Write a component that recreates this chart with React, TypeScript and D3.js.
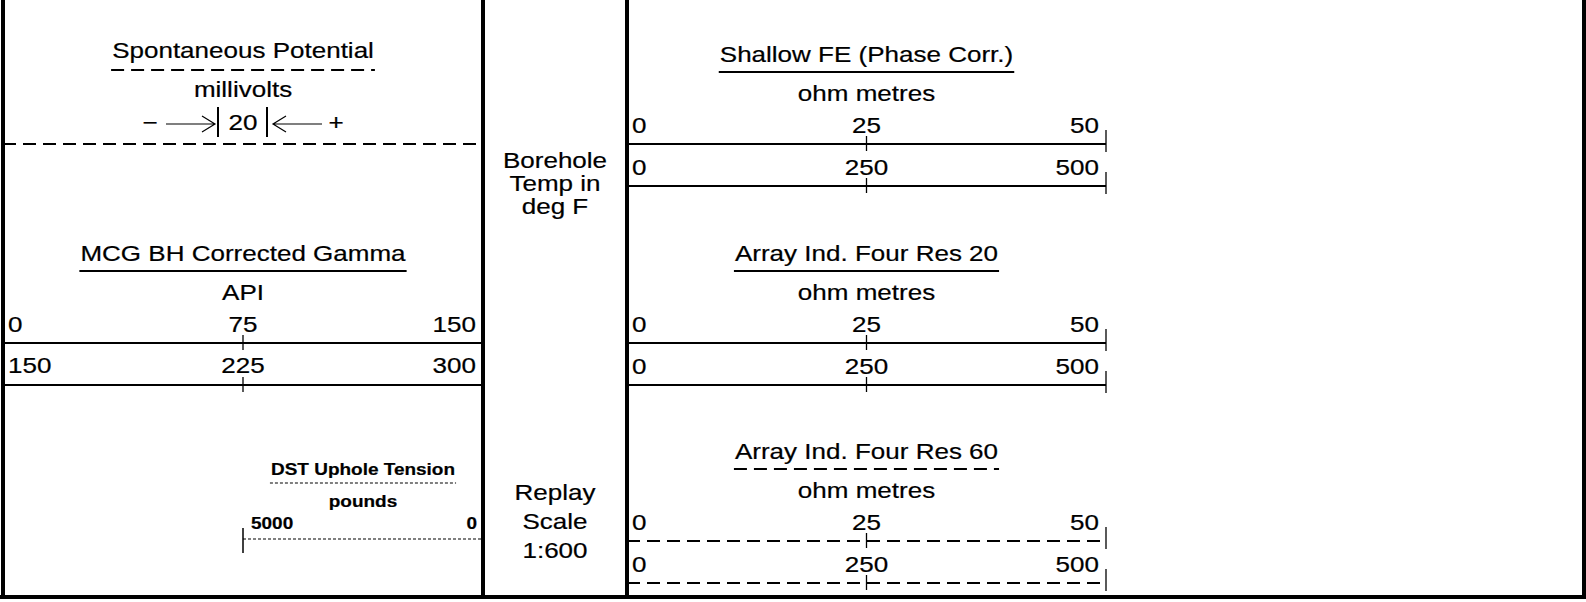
import * as d3 from "d3";

const WIDTH = 1586;
const HEIGHT = 602;
const FONT = '"Liberation Sans", Arial, sans-serif';
const FONT_SIZE = 21.5;
const STRETCH = 1.21; // header lettering is drawn wide
const STRETCH_BOLD = 1.15;

// track borders and bottom edge
const trackX = [3, 483, 627, 1584];
const bottomY = 597;
const resRight = 1106;

// track 1
const spTitle = "Spontaneous Potential";
const spUnit = "millivolts";
const spScale = "20";
const gammaTitle = "MCG BH Corrected Gamma";
const gammaUnit = "API";
const gammaScale1 = [0, 75, 150];
const gammaScale2 = [150, 225, 300];
const dstTitle = "DST Uphole Tension";
const dstUnit = "pounds";
const dstScale = [5000, 0];

// depth track
const depthTop = ["Borehole", "Temp in", "deg F"];
const depthBottom = ["Replay", "Scale", "1:600"];

// resistivity track
const resTitles = ["Shallow FE (Phase Corr.)", "Array Ind. Four Res 20", "Array Ind. Four Res 60"];
const resUnits = ["ohm metres", "ohm metres", "ohm metres"];
const resDashed = [false, false, true];
const resScale1 = [0, 25, 50];
const resScale2 = [0, 250, 500];
const resLineY = [144, 343, 541];

const ctx = document.createElement("canvas").getContext("2d");
function textWidth(s: string, size: number, bold: boolean, stretch: number) {
  if (!ctx) return s.length * size * 0.55 * stretch;
  ctx.font = `${bold ? "bold " : ""}${size}px "Liberation Sans", Arial`;
  return ctx.measureText(s).width * stretch;
}

function Label({ x, y, text, anchor = "middle", size = FONT_SIZE, bold = false }: any) {
  const s = bold ? STRETCH_BOLD : STRETCH;
  return (
    <text
      transform={`translate(${x},${y}) scale(${s},1)`}
      textAnchor={anchor}
      fontFamily={FONT}
      fontSize={size}
      fontWeight={bold ? 700 : 400}
      fill="#000"
      stroke="#000"
      strokeWidth={0.2}
    >
      {text}
    </text>
  );
}

function Underline({ cx, y, text, size = FONT_SIZE, bold = false, dash }: any) {
  const w = textWidth(text, size, bold, bold ? STRETCH_BOLD : STRETCH) + 2;
  return (
    <line
      x1={cx - w / 2}
      x2={cx + w / 2}
      y1={y}
      y2={y}
      stroke="#000"
      strokeWidth={dash === "dot" ? 1.2 : 2}
      strokeDasharray={dash === "dash" ? "13 7" : dash === "dot" ? "3 2" : undefined}
    />
  );
}

function ScaleRow({ ticks, x0, x1, y, labelY, dashed, endTick }: any) {
  const x = d3.scaleLinear().domain([ticks[0], ticks[ticks.length - 1]]).range([x0, x1]);
  const mid = ticks[1];
  return (
    <g>
      <line x1={x0} x2={x1} y1={y} y2={y} stroke="#000" strokeWidth={2} strokeDasharray={dashed ? "13 7" : undefined} />
      <line x1={x(mid)} x2={x(mid)} y1={y - 8} y2={y + 7} stroke="#000" strokeWidth={1.3} />
      {endTick && <line x1={x1} x2={x1} y1={y - 14} y2={y + 8} stroke="#000" strokeWidth={1.3} />}
      <Label x={x(ticks[0]) + 5} y={labelY} text={ticks[0]} anchor="start" />
      <Label x={x(mid)} y={labelY} text={mid} />
      <Label x={x(ticks[2]) - 7} y={labelY} text={ticks[2]} anchor="end" />
    </g>
  );
}

function ResBlock({ i }: { i: number }) {
  const y = resLineY[i];
  const cx = (trackX[2] + resRight) / 2;
  return (
    <g>
      <Label x={cx} y={y - 82} text={resTitles[i]} />
      <Underline cx={cx} y={y - 72} text={resTitles[i]} dash={resDashed[i] ? "dash" : undefined} />
      <Label x={cx} y={y - 43} text={resUnits[i]} />
      <ScaleRow ticks={resScale1} x0={trackX[2]} x1={resRight} y={y} labelY={y - 11} dashed={resDashed[i]} endTick />
      <ScaleRow ticks={resScale2} x0={trackX[2]} x1={resRight} y={y + 42} labelY={y + 31} dashed={resDashed[i]} endTick />
    </g>
  );
}

function SpBlock() {
  const cx = (trackX[0] + trackX[1]) / 2;
  const ay = 124;
  return (
    <g>
      <Label x={cx} y={58} text={spTitle} />
      <Underline cx={cx} y={70} text={spTitle} dash="dash" />
      <Label x={cx} y={97} text={spUnit} />
      <Label x={cx} y={130} text={spScale} />
      <line x1={cx - 25} x2={cx - 25} y1={107} y2={137} stroke="#000" strokeWidth={2} />
      <line x1={cx + 24} x2={cx + 24} y1={107} y2={137} stroke="#000" strokeWidth={2} />
      <Label x={cx - 93} y={130} text={"\u2212"} />
      <Label x={cx + 93} y={130} text="+" />
      <g fill="none" stroke="#000" strokeWidth={1.2}>
        <path d={`M${cx - 77},${ay} H${cx - 28} M${cx - 41},${ay - 8} L${cx - 28},${ay} L${cx - 41},${ay + 8}`} />
        <path d={`M${cx + 79},${ay} H${cx + 30} M${cx + 43},${ay - 8} L${cx + 30},${ay} L${cx + 43},${ay + 8}`} />
      </g>
      <line x1={trackX[0]} x2={trackX[1]} y1={144} y2={144} stroke="#000" strokeWidth={2} strokeDasharray="13 7" />
    </g>
  );
}

function GammaBlock() {
  const cx = (trackX[0] + trackX[1]) / 2;
  const y = 343;
  return (
    <g>
      <Label x={cx} y={y - 82} text={gammaTitle} />
      <Underline cx={cx} y={y - 72} text={gammaTitle} />
      <Label x={cx} y={y - 43} text={gammaUnit} />
      <ScaleRow ticks={gammaScale1} x0={trackX[0]} x1={trackX[1]} y={y} labelY={y - 11} />
      <ScaleRow ticks={gammaScale2} x0={trackX[0]} x1={trackX[1]} y={y + 42} labelY={y + 30} />
    </g>
  );
}

function DstBlock() {
  const x = d3.scaleLinear().domain([dstScale[0], dstScale[1]]).range([243, trackX[1]]);
  const cx = (x(dstScale[0]) + x(dstScale[1])) / 2;
  const y = 539;
  const fs = 16.5;
  return (
    <g>
      <Label x={cx} y={y - 64} text={dstTitle} size={fs} bold />
      <Underline cx={cx} y={y - 56} text={dstTitle} size={fs} bold dash="dot" />
      <Label x={cx} y={y - 32} text={dstUnit} size={fs} bold />
      <line x1={x(dstScale[0])} x2={x(dstScale[1])} y1={y} y2={y} stroke="#000" strokeWidth={1.2} strokeDasharray="3 2" />
      <line x1={x(dstScale[0])} x2={x(dstScale[0])} y1={y - 11} y2={y + 14} stroke="#000" strokeWidth={1.5} />
      <Label x={x(dstScale[0]) + 8} y={y - 10} text={dstScale[0]} anchor="start" size={fs} bold />
      <Label x={x(dstScale[1]) - 6} y={y - 10} text={dstScale[1]} anchor="end" size={fs} bold />
    </g>
  );
}

export default function App() {
  const midX = (trackX[1] + trackX[2]) / 2;
  return (
    <div style={{ position: "absolute", left: 0, top: 0 }}>
      <svg width={WIDTH} height={HEIGHT} style={{ display: "block", background: "#fff" }}>
        <rect width={WIDTH} height={HEIGHT} fill="#fff" />
        {trackX.map((x) => (
          <line key={x} x1={x} x2={x} y1={0} y2={bottomY} stroke="#000" strokeWidth={4} />
        ))}
        <line x1={0} x2={WIDTH} y1={bottomY} y2={bottomY} stroke="#000" strokeWidth={4} />

        <SpBlock />
        <GammaBlock />
        <DstBlock />

        {depthTop.map((t, i) => (
          <Label key={t} x={midX} y={168 + i * 23} text={t} />
        ))}
        {depthBottom.map((t, i) => (
          <Label key={t} x={midX} y={500 + i * 29} text={t} />
        ))}

        {resTitles.map((_, i) => (
          <ResBlock key={i} i={i} />
        ))}
      </svg>
    </div>
  );
}
